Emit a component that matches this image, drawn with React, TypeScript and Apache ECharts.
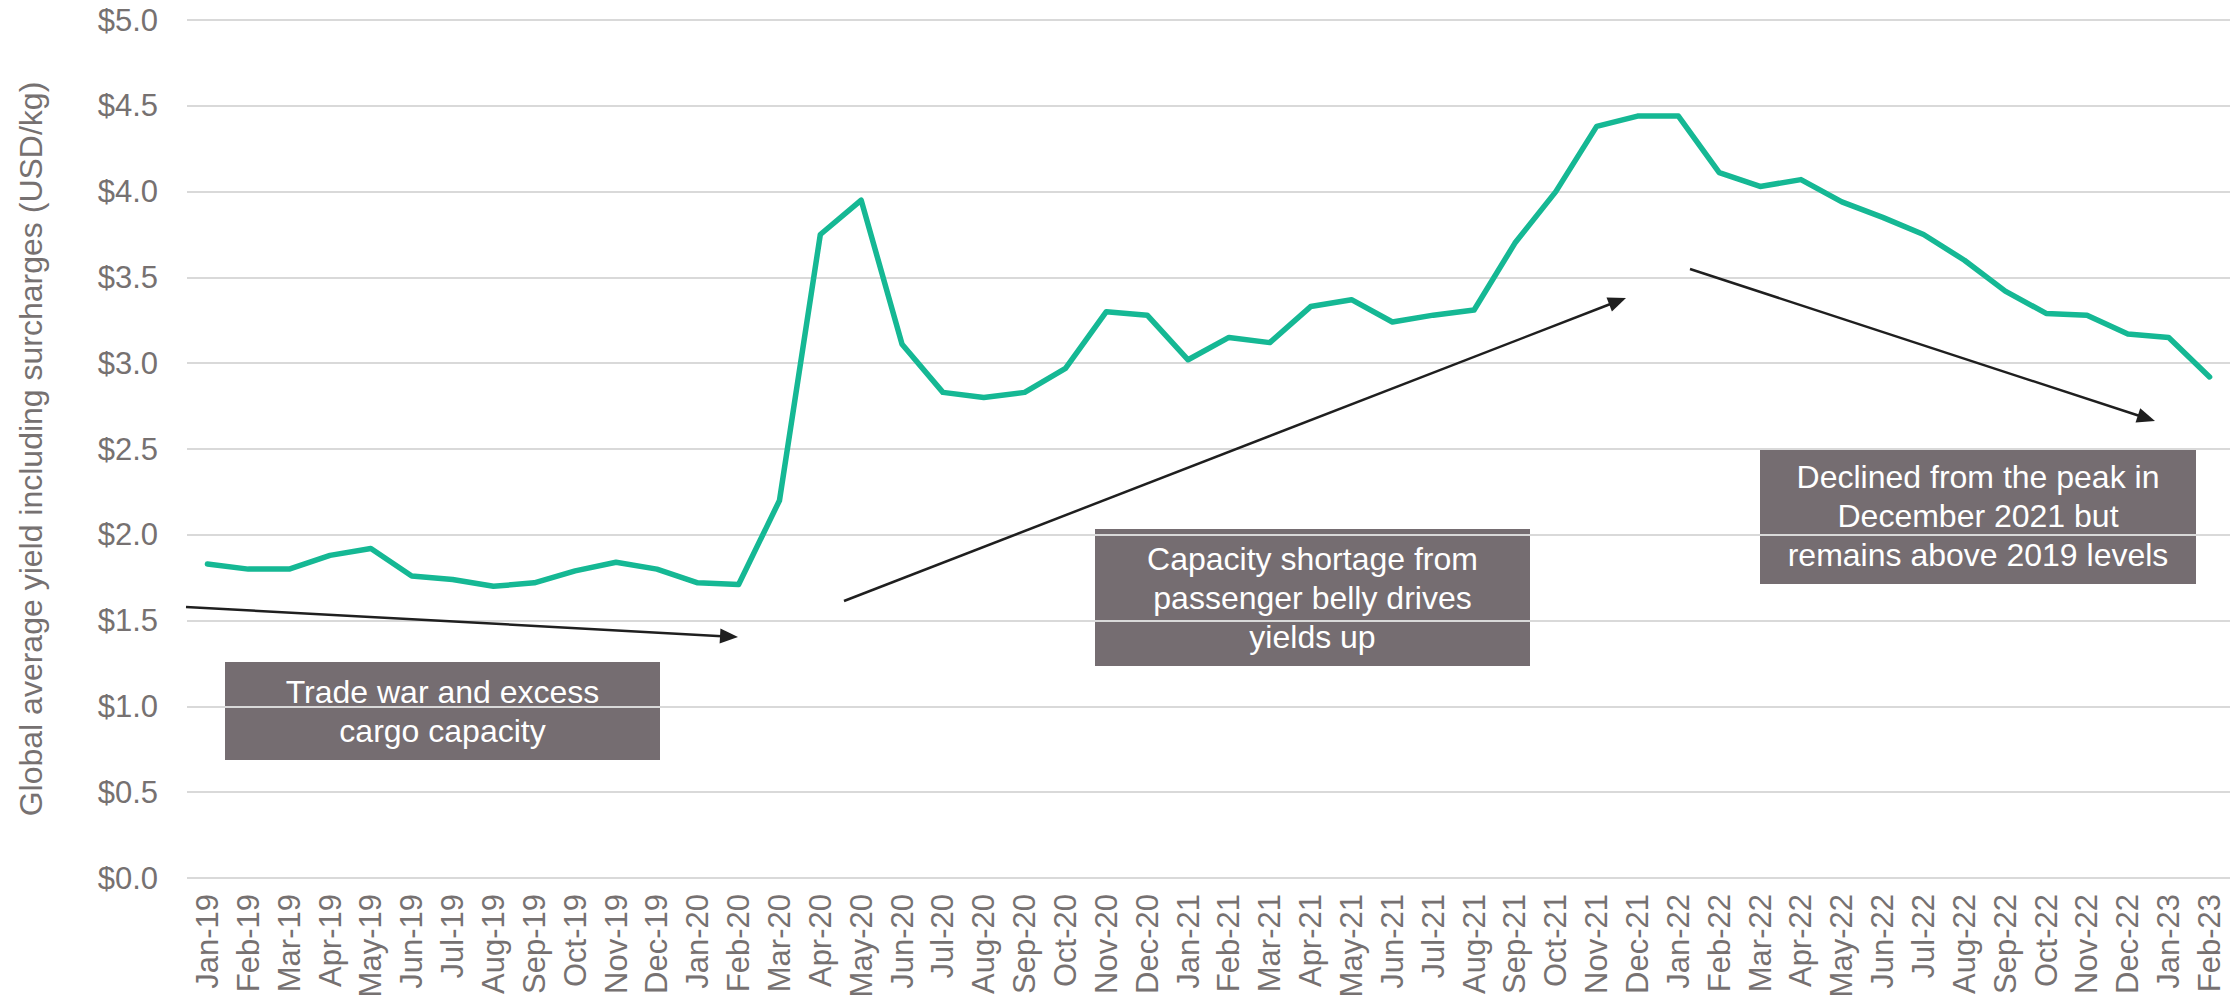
import React, { useEffect, useRef } from "react";
import * as echarts from "echarts";

const months = [
  "Jan-19", "Feb-19", "Mar-19", "Apr-19", "May-19", "Jun-19", "Jul-19", "Aug-19", "Sep-19", "Oct-19", "Nov-19", "Dec-19",
  "Jan-20", "Feb-20", "Mar-20", "Apr-20", "May-20", "Jun-20", "Jul-20", "Aug-20", "Sep-20", "Oct-20", "Nov-20", "Dec-20",
  "Jan-21", "Feb-21", "Mar-21", "Apr-21", "May-21", "Jun-21", "Jul-21", "Aug-21", "Sep-21", "Oct-21", "Nov-21", "Dec-21",
  "Jan-22", "Feb-22", "Mar-22", "Apr-22", "May-22", "Jun-22", "Jul-22", "Aug-22", "Sep-22", "Oct-22", "Nov-22", "Dec-22",
  "Jan-23", "Feb-23",
];

const yieldUsdPerKg = [
  1.83, 1.80, 1.80, 1.88, 1.92, 1.76, 1.74, 1.70, 1.72, 1.79, 1.84, 1.80,
  1.72, 1.71, 2.20, 3.75, 3.95, 3.11, 2.83, 2.80, 2.83, 2.97, 3.30, 3.28,
  3.02, 3.15, 3.12, 3.33, 3.37, 3.24, 3.28, 3.31, 3.70, 4.00, 4.38, 4.44,
  4.44, 4.11, 4.03, 4.07, 3.94, 3.85, 3.75, 3.60, 3.42, 3.29, 3.28, 3.17,
  3.15, 2.92,
];

const yTicks = { min: 0, max: 5, interval: 0.5 };

const notes = [
  { lines: ["Trade war and excess", "cargo capacity"] },
  { lines: ["Capacity shortage from", "passenger belly drives", "yields up"] },
  { lines: ["Declined from the peak in", "December 2021 but", "remains above 2019 levels"] },
];

const FONT = "'Liberation Sans', Arial, Helvetica, sans-serif";
const GREY = "#767171";
const BOX = "#756D71";

function arrow(x1: number, y1: number, x2: number, y2: number) {
  const dx = x2 - x1;
  const dy = y2 - y1;
  const len = Math.sqrt(dx * dx + dy * dy);
  const ux = dx / len;
  const uy = dy / len;
  const L = 18;
  const W = 15;
  const bx = x2 - ux * L;
  const by = y2 - uy * L;
  const nx = -uy;
  const ny = ux;
  return [
    {
      type: "line",
      shape: { x1, y1, x2: bx + ux * 2, y2: by + uy * 2 },
      style: { stroke: "#1f1f1f", lineWidth: 2.5 },
      z: 10,
    },
    {
      type: "polygon",
      shape: {
        points: [
          [x2, y2],
          [bx + (nx * W) / 2, by + (ny * W) / 2],
          [bx - (nx * W) / 2, by - (ny * W) / 2],
        ],
      },
      style: { fill: "#1f1f1f" },
      z: 10,
    },
  ];
}

function box(x: number, y: number, w: number, h: number, lines: string[]) {
  return {
    type: "group",
    z: 10,
    children: [
      { type: "rect", shape: { x, y, width: w, height: h }, style: { fill: BOX } },
      {
        type: "text",
        x: x + w / 2,
        y: y + h / 2,
        style: {
          text: lines.join("\n"),
          fill: "#ffffff",
          font: `32px ${FONT}`,
          fontSize: 32,
          fontFamily: FONT,
          align: "center",
          verticalAlign: "middle",
          lineHeight: 39,
        },
      },
    ],
  };
}

export default function App() {
  const ref = useRef<HTMLDivElement>(null);

  useEffect(() => {
    if (!ref.current) return;
    const chart = echarts.init(ref.current, undefined, { renderer: "svg" });
    chart.setOption({
      animation: false,
      backgroundColor: "#ffffff",
      textStyle: { fontFamily: FONT },
      grid: { left: 187, right: 9, top: 20, bottom: 123, containLabel: false },
      xAxis: {
        type: "category",
        data: months,
        boundaryGap: true,
        axisLine: { show: false },
        axisTick: { show: false },
        axisLabel: {
          rotate: 90,
          interval: 0,
          margin: 16,
          color: GREY,
          fontSize: 31,
          fontFamily: FONT,
        },
      },
      yAxis: {
        type: "value",
        min: yTicks.min,
        max: yTicks.max,
        interval: yTicks.interval,
        name: "Global average yield including surcharges (USD/kg)",
        nameLocation: "middle",
        nameRotate: 90,
        nameGap: 140,
        nameTextStyle: { color: GREY, fontSize: 32, fontFamily: FONT },
        axisLine: { show: false },
        axisTick: { show: false },
        splitLine: { lineStyle: { color: "#D9D9D9", width: 2 } },
        axisLabel: {
          margin: 29,
          color: GREY,
          fontSize: 31,
          fontFamily: FONT,
          formatter: (v: number) => "$" + v.toFixed(1),
        },
      },
      series: [
        {
          type: "line",
          data: yieldUsdPerKg,
          symbol: "none",
          lineStyle: { color: "#15B894", width: 5.5, join: "round", cap: "round" },
          itemStyle: { color: "#15B894" },
          z: 5,
        },
      ],
      graphic: [
        ...arrow(186, 607, 738, 637),
        ...arrow(844, 601, 1626, 298),
        ...arrow(1690, 269, 2155, 421),
        box(225, 662, 435, 98, notes[0].lines),
        box(1095, 529, 435, 137, notes[1].lines),
        box(1760, 448, 436, 136, notes[2].lines),
      ],
    });
    return () => chart.dispose();
  }, []);

  return (
    <div
      ref={ref}
      style={{ position: "fixed", left: 0, top: 0, width: 2239, height: 1001, background: "#fff" }}
    />
  );
}
